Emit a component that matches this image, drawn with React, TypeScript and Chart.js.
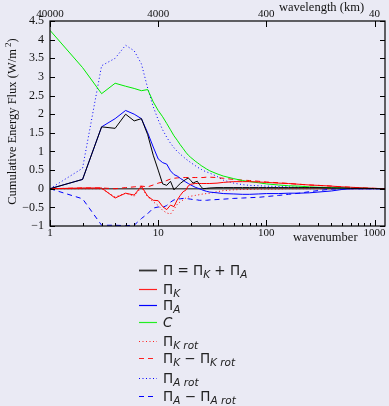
import React, { useEffect, useRef } from "react";
import { Chart, registerables } from "chart.js";

Chart.register(...registerables);

// ---------------- data ----------------
const wavenumbers = [
  1, 2, 3, 4, 5, 6, 7, 8, 9, 10, 11, 12, 13, 14, 15, 16, 17, 18, 19, 20, 21, 22, 23, 24, 25, 26,
  28, 30, 35, 40, 50, 60, 70, 85, 100, 130, 160, 200, 250, 300, 400, 500, 600, 800, 1000, 1250,
];

const piTotal = [
  0, 0.25, 1.66, 1.62, 2.0, 1.82, 1.88, 1.45, 0.9, 0.5,
  0.13, 0.09, 0.2, -0.03, 0.06, 0.14, 0.2, 0.25, 0.29, 0.22,
  0.15, 0.18, 0.2, 0.12, 0.05, 0.0,
  0.01, 0.02, 0.03, 0.03, 0.03, 0.03, 0.03, 0.03,
  0.03, 0.03, 0.03, 0.03, 0.03, 0.03, 0.02, 0.02, 0.01, 0.01, 0.005, 0,
];

const piK = [
  0, 0.02, 0.02, -0.25, -0.12, -0.17, 0.07, -0.2, -0.31, -0.32,
  -0.48, -0.56, -0.44, -0.48, -0.3, -0.18, -0.08, -0.04, 0.08, 0.12,
  0.13, 0.14, 0.14, 0.14, 0.14, 0.14,
  0.14, 0.14, 0.15, 0.17, 0.19, 0.19, 0.19, 0.18,
  0.17, 0.15, 0.14, 0.12, 0.1, 0.09, 0.07, 0.05, 0.04, 0.02, 0.01, 0,
];

const piA = [
  0, 0.25, 1.66, 1.88, 2.1, 2.0, 1.88, 1.5, 1.12, 0.8,
  0.7, 0.66, 0.48, 0.38, 0.34, 0.28, 0.23, 0.18, 0.14, 0.1,
  0.07, 0.04, 0.02, 0.0, -0.02, -0.04,
  -0.07, -0.09, -0.11, -0.13, -0.14, -0.15, -0.15, -0.14,
  -0.13, -0.13, -0.12, -0.12, -0.11, -0.09, -0.06, -0.02, 0, 0, 0, 0,
];

const conversionC = [
  4.25, 3.25, 2.55, 2.83, 2.75, 2.69, 2.63, 2.66, 2.33, 2.1,
  1.93, 1.75, 1.58, 1.42, 1.3, 1.18, 1.08, 0.98, 0.9, 0.84,
  0.79, 0.74, 0.7, 0.66, 0.62, 0.59,
  0.53, 0.48, 0.4, 0.34, 0.27, 0.22, 0.19, 0.16,
  0.13, 0.1, 0.08, 0.07, 0.05, 0.04, 0.03, 0.02, 0.015, 0.01, 0.005, 0,
];

const piKrot = [
  0, 0, 0, -0.22, -0.12, -0.2, 0.04, -0.22, -0.35, -0.45,
  -0.58, -0.65, -0.68, -0.55, -0.42, -0.35, -0.3, -0.25, -0.22, -0.2,
  -0.19, -0.18, -0.17, -0.16, -0.15, -0.14,
  -0.13, -0.12, -0.08, -0.05, -0.03, -0.02, -0.02, -0.01,
  -0.01, -0.01, 0, 0, 0, 0, 0, 0, 0, 0, 0, 0,
];

const piKdiv = [
  0, 0.02, 0.02, 0.0, 0.03, 0.05, 0.07, 0.05, 0.1, 0.15,
  0.18, 0.22, 0.26, 0.28, 0.29, 0.3, 0.3, 0.3, 0.3, 0.3,
  0.3, 0.3, 0.3, 0.3, 0.3, 0.3,
  0.31, 0.31, 0.3, 0.28, 0.25, 0.23, 0.22, 0.2,
  0.18, 0.16, 0.14, 0.12, 0.1, 0.09, 0.07, 0.05, 0.04, 0.02, 0.01, 0,
];

const piArot = [
  0, 0.55, 3.3, 3.5, 3.85, 3.7, 3.35, 2.7, 2.2, 1.85,
  1.58, 1.38, 1.22, 1.1, 1.0, 0.93, 0.86, 0.8, 0.75, 0.7,
  0.66, 0.62, 0.58, 0.55, 0.52, 0.49,
  0.45, 0.42, 0.33, 0.23, 0.15, 0.11, 0.09, 0.08,
  0.07, 0.06, 0.05, 0.04, 0.03, 0.03, 0.02, 0.01, 0.01, 0, 0, 0,
];

const piAdiv = [
  0, -0.27, -0.98, -0.98, -0.99, -0.98, -0.8, -0.67, -0.52, -0.49,
  -0.5, -0.45, -0.36, -0.3, -0.28, -0.27, -0.26, -0.26, -0.27, -0.28,
  -0.29, -0.3, -0.3, -0.31, -0.31, -0.31,
  -0.31, -0.3, -0.29, -0.28, -0.26, -0.25, -0.24, -0.23,
  -0.21, -0.18, -0.15, -0.12, -0.08, -0.05, -0.01, 0, 0, 0, 0, 0,
];

const xMajorTicks = [1, 10, 100, 1000];
const wavelengthOf = (n: number) => 40000 / n; // km
const yMin = -1;
const yMax = 4.5;
const yStep = 0.5;
const xMax = 1250;

// legend rows: [text, kind] kind: n = normal, s = subscript, i = italic
const legendRows: { parts: [string, string][]; color: string; dash: number[]; width: number }[] = [
  { parts: [["Π = Π", "n"], ["K", "s"], [" + Π", "n"], ["A", "s"]], color: "#333333", dash: [], width: 1.8 },
  { parts: [["Π", "n"], ["K", "s"]], color: "#ff2020", dash: [], width: 1.2 },
  { parts: [["Π", "n"], ["A", "s"]], color: "#0000ff", dash: [], width: 1.2 },
  { parts: [["C", "i"]], color: "#22ee22", dash: [], width: 1.2 },
  { parts: [["Π", "n"], ["K rot", "s"]], color: "#ff2020", dash: [1, 2.5], width: 1 },
  { parts: [["Π", "n"], ["K", "s"], [" − Π", "n"], ["K rot", "s"]], color: "#ff2020", dash: [5, 4], width: 1.2 },
  { parts: [["Π", "n"], ["A rot", "s"]], color: "#0000ff", dash: [1, 2.5], width: 1 },
  { parts: [["Π", "n"], ["A", "s"], [" − Π", "n"], ["A rot", "s"]], color: "#0000ff", dash: [5, 4], width: 1.2 },
];
const legendY = [270, 289, 305, 322, 341, 358, 378, 396];

const BG = "rgb(234,234,244)";
const SERIF = '"Liberation Serif", "DejaVu Serif", serif';
const SANS = '"DejaVu Sans", "Noto Sans", sans-serif';

function pts(vals: number[]) {
  return wavenumbers.map((n, i) => ({ x: n, y: vals[i] }));
}

const decorPlugin = {
  id: "decor",
  beforeDraw(chart: any) {
    const ctx = chart.ctx;
    ctx.save();
    ctx.fillStyle = BG;
    ctx.fillRect(0, 0, chart.width, chart.height);
    ctx.restore();
  },
  beforeDatasetsDraw(chart: any) {
    const { ctx, chartArea } = chart;
    const y0 = chart.scales.y.getPixelForValue(0);
    ctx.save();
    ctx.strokeStyle = "#555555";
    ctx.lineWidth = 1.5;
    ctx.beginPath();
    ctx.moveTo(chartArea.left, y0);
    ctx.lineTo(chartArea.right, y0);
    ctx.stroke();
    ctx.restore();
  },
  afterDraw(chart: any) {
    const { ctx, chartArea } = chart;
    const { left, right, top, bottom } = chartArea;
    const xs = chart.scales.x;
    const ys = chart.scales.y;
    ctx.save();
    // frame
    ctx.strokeStyle = "#000";
    ctx.lineWidth = 1.2;
    ctx.setLineDash([]);
    ctx.strokeRect(left, top, right - left, bottom - top);
    // y ticks (both sides, inward)
    ctx.lineWidth = 1;
    ctx.beginPath();
    for (let v = yMin; v <= yMax + 1e-9; v += yStep) {
      const py = Math.round(ys.getPixelForValue(v)) + 0.5;
      ctx.moveTo(left, py);
      ctx.lineTo(left + 5, py);
      ctx.moveTo(right, py);
      ctx.lineTo(right - 5, py);
    }
    // x ticks bottom (major + minor), top (major)
    for (let dec = 1; dec <= 1000; dec *= 10) {
      for (let m = 1; m <= 9; m++) {
        const v = dec * m;
        if (v > xMax) break;
        const px = Math.round(xs.getPixelForValue(v)) + 0.5;
        const len = m === 1 ? 6 : 3;
        ctx.moveTo(px, bottom);
        ctx.lineTo(px, bottom - len);
        if (m === 1) {
          ctx.moveTo(px, top);
          ctx.lineTo(px, top + 6);
        }
      }
    }
    ctx.stroke();

    // axis titles
    ctx.fillStyle = "#111";
    ctx.font = `12.5px ${SERIF}`;
    ctx.textBaseline = "middle";
    ctx.textAlign = "left";
    ctx.fillText("wavelength (km)", 279, 8);
    ctx.fillText("wavenumber", 293, 238);

    // y title with superscript
    const main = "Cumulative Energy Flux (W/m";
    ctx.save();
    ctx.translate(12, (top + bottom) / 2 - 2);
    ctx.rotate(-Math.PI / 2);
    ctx.font = `12.5px ${SERIF}`;
    const w1 = ctx.measureText(main).width;
    ctx.font = `9px ${SERIF}`;
    const w2 = ctx.measureText(" 2").width;
    ctx.font = `12.5px ${SERIF}`;
    const w3 = ctx.measureText(")").width;
    let x = -(w1 + w2 + w3) / 2;
    ctx.textBaseline = "alphabetic";
    ctx.fillText(main, x, 4);
    x += w1;
    ctx.font = `9px ${SERIF}`;
    ctx.fillText(" 2", x, -1);
    x += w2;
    ctx.font = `12.5px ${SERIF}`;
    ctx.fillText(")", x, 4);
    ctx.restore();

    // legend
    legendRows.forEach((row, i) => {
      const y = legendY[i];
      ctx.save();
      ctx.strokeStyle = row.color;
      ctx.lineWidth = row.width;
      ctx.setLineDash(row.dash);
      ctx.beginPath();
      ctx.moveTo(139, y + 0.5);
      ctx.lineTo(157, y + 0.5);
      ctx.stroke();
      ctx.restore();
      let tx = 163;
      ctx.fillStyle = "#222";
      ctx.textAlign = "left";
      ctx.textBaseline = "alphabetic";
      for (const [t, kind] of row.parts) {
        if (kind === "s") {
          ctx.font = `italic 10.5px ${SANS}`;
          ctx.fillText(t, tx, y + 8);
        } else if (kind === "i") {
          ctx.font = `italic 13.5px ${SANS}`;
          ctx.fillText(t, tx, y + 5);
        } else {
          ctx.font = `13.5px ${SANS}`;
          ctx.fillText(t, tx, y + 5);
        }
        tx += ctx.measureText(t).width;
      }
    });
    ctx.restore();
  },
};

export default function App() {
  const ref = useRef<HTMLCanvasElement | null>(null);
  useEffect(() => {
    document.body.style.margin = "0";
    document.body.style.background = BG;
    const canvas = ref.current!;
    const ds = (label: string, vals: number[], color: string, dash: number[], width = 1) => ({
      label,
      data: pts(vals),
      borderColor: color,
      backgroundColor: color,
      borderDash: dash,
      borderWidth: width,
      pointRadius: 0,
      tension: 0,
      fill: false,
    });
    const chart = new Chart(canvas, {
      type: "line",
      data: {
        datasets: [
          ds("Π = ΠK + ΠA", piTotal, "#000000", []),
          ds("ΠK", piK, "#ff0000", []),
          ds("ΠA", piA, "#0000ff", []),
          ds("C", conversionC, "#00ee00", []),
          ds("ΠK rot", piKrot, "#ff0000", [1, 2.5]),
          ds("ΠK − ΠK rot", piKdiv, "#ff0000", [5, 4]),
          ds("ΠA rot", piArot, "#0000ff", [1, 2.5]),
          ds("ΠA − ΠA rot", piAdiv, "#0000ff", [5, 4]),
        ] as any,
      },
      options: {
        animation: false,
        responsive: false,
        devicePixelRatio: 1,
        layout: { padding: { left: 0, right: 4, top: 0, bottom: 0 } },
        plugins: { legend: { display: false }, tooltip: { enabled: false } },
        scales: {
          x: {
            type: "logarithmic",
            position: "bottom",
            min: 1,
            max: xMax,
            grid: { display: false, drawTicks: false },
            border: { display: false },
            afterBuildTicks: (s: any) => {
              s.ticks = xMajorTicks.map((v) => ({ value: v }));
            },
            afterFit: (s: any) => {
              s.height = 180;
            },
            ticks: {
              autoSkip: false,
              maxRotation: 0,
              padding: 1,
              color: "#111",
              font: { family: SERIF, size: 11 },
              callback: (v: any) => String(v),
            },
          },
          x2: {
            type: "logarithmic",
            position: "top",
            min: 1,
            max: xMax,
            grid: { display: false, drawTicks: false },
            border: { display: false },
            afterBuildTicks: (s: any) => {
              s.ticks = xMajorTicks.map((v) => ({ value: v }));
            },
            afterFit: (s: any) => {
              s.height = 21;
            },
            ticks: {
              autoSkip: false,
              maxRotation: 0,
              padding: 0,
              color: "#111",
              font: { family: SERIF, size: 11 },
              callback: (v: any) => String(wavelengthOf(Number(v))),
            },
          },
          y: {
            type: "linear",
            min: yMin,
            max: yMax,
            grid: { display: false, drawTicks: false },
            border: { display: false },
            afterFit: (s: any) => {
              s.width = 50;
            },
            ticks: {
              stepSize: yStep,
              padding: 6,
              color: "#111",
              font: { family: SERIF, size: 12 },
              callback: (v: any) => String(Number(v)).replace("-", "−"),
            },
          },
        },
      } as any,
      plugins: [decorPlugin],
    });
    return () => chart.destroy();
  }, []);
  return <canvas ref={ref} width={389} height={406} style={{ display: "block" }} />;
}
